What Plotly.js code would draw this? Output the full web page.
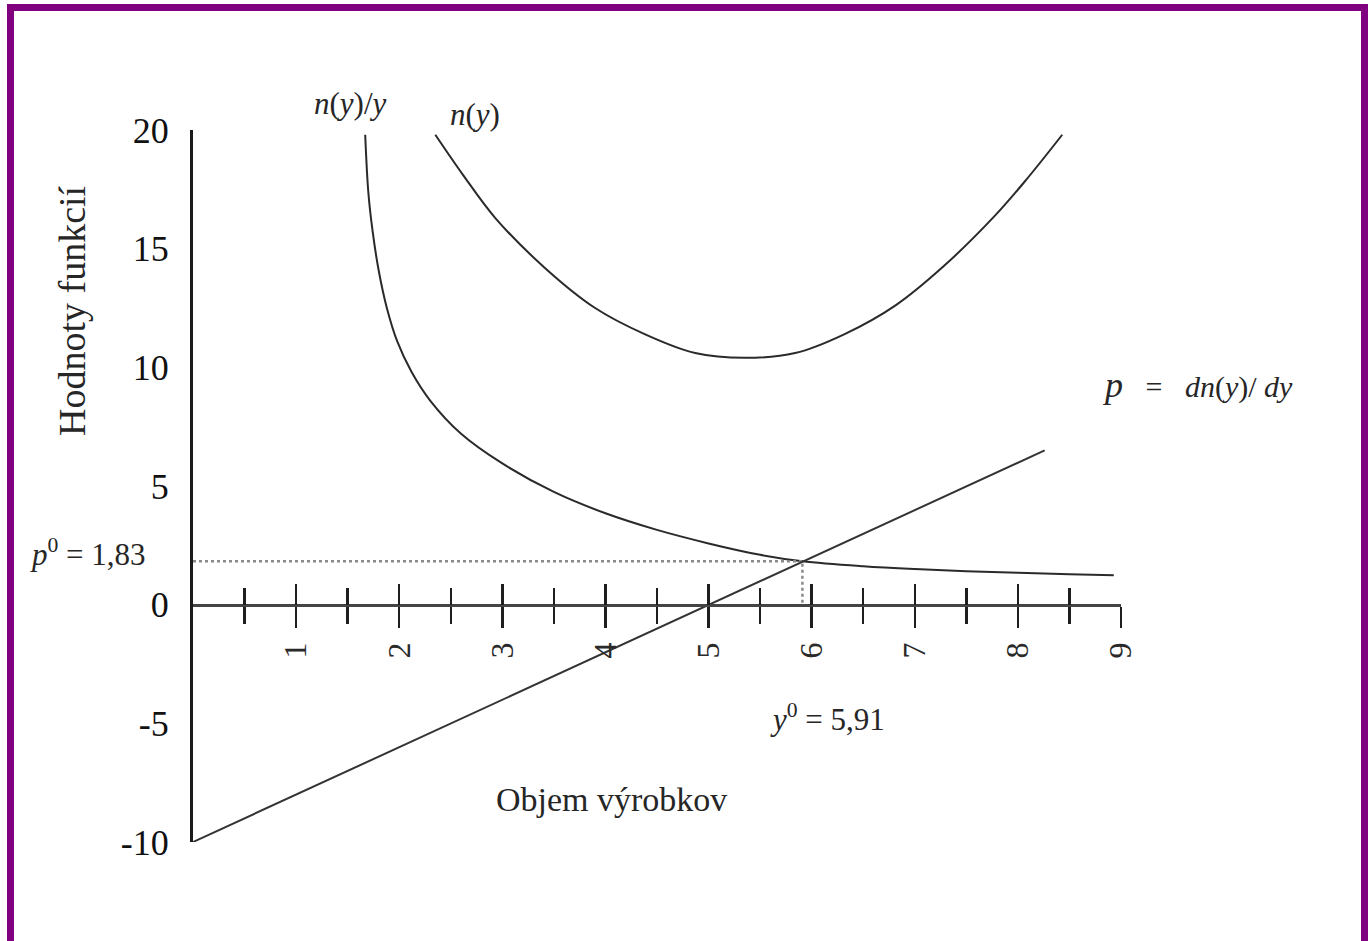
<!DOCTYPE html>
<html>
<head>
<meta charset="utf-8">
<script src="https://cdn.plot.ly/plotly-3.0.1.min.js"></script>
<style>
  html, body { margin: 0; padding: 0; background: #ffffff; }
  #chart { position: absolute; left: 0; top: 0; width: 1368px; height: 941px; }
  #frame {
    position: absolute; left: 7px; top: 4px; width: 1347px; height: 960px;
    border-top: 7px solid #800080; border-left: 7px solid #800080; border-right: 7px solid #800080;
    pointer-events: none;
  }
</style>
</head>
<body>
<div id="chart"></div>
<div id="frame"></div>
<script>
// Total cost n(y)
const costX = [2.35, 2.62, 2.93, 3.41, 3.90, 4.38, 4.87, 5.35, 5.84, 6.32, 6.81, 7.29, 7.78, 8.08, 8.43];
const costY = [19.8, 18.1, 16.3, 14.2, 12.5, 11.4, 10.6, 10.4, 10.6, 11.4, 12.6, 14.3, 16.4, 17.9, 19.8];

// Average cost n(y)/y
const avgX = [1.67, 1.70, 1.74, 1.80, 1.88, 1.98, 2.12, 2.30, 2.60, 3.00, 3.50, 4.00, 4.50, 5.00, 5.50, 5.91, 6.50, 7.00, 7.50, 8.00, 8.50, 8.93];
const avgY = [19.8, 17.4, 15.8, 14.1, 12.5, 11.1, 9.8, 8.6, 7.2, 5.95, 4.75, 3.85, 3.15, 2.58, 2.10, 1.83, 1.62, 1.50, 1.41, 1.34, 1.28, 1.24];

// Marginal cost p = dn(y)/dy
const margX = [0, 8.26];
const margY = [-10, 6.5];

// Optimum point
const optY = 5.91;
const optP = 1.83;

// Axis ticks
const xTickVals = [1, 2, 3, 4, 5, 6, 7, 8, 9];
const xTickText = ['1', '2', '3', '4', '5', '6', '7', '8', '9'];
const yTickVals = [-10, -5, 0, 5, 10, 15, 20];
const yTickText = ['-10', '-5', '0', '5', '10', '15', '20'];

const serif = 'Liberation Serif, Times New Roman, serif';
const ink = '#1e1e1e';

const traces = [
  { x: costX, y: costY, mode: 'lines', line: { color: '#2a2a2a', width: 2, shape: 'spline' }, xaxis: 'x', yaxis: 'y' },
  { x: avgX, y: avgY, mode: 'lines', line: { color: '#2a2a2a', width: 2, shape: 'spline' }, xaxis: 'x', yaxis: 'y' },
  { x: margX, y: margY, mode: 'lines', line: { color: '#333333', width: 2 }, xaxis: 'x2', yaxis: 'y' },
  { x: [0, optY, optY], y: [optP, optP, 0], mode: 'lines', line: { color: '#8a8a8a', width: 2.5, dash: 'dot' }, xaxis: 'x', yaxis: 'y' }
];

const xCommon = {
  range: [0, 9],
  anchor: 'free',
  position: 1 / 3,
  showgrid: false,
  zeroline: false,
  tickmode: 'array',
  tickvals: xTickVals,
  ticktext: xTickText,
  tickcolor: ink,
  tickwidth: 2.5,
  ticklen: 21,
  minor: { tickmode: 'linear', tick0: 0.5, dtick: 1, ticklen: 17, tickwidth: 2.5, tickcolor: ink, showgrid: false }
};

const layout = {
  width: 1368,
  height: 941,
  margin: { l: 193, r: 247, t: 130, b: 99 },
  paper_bgcolor: '#ffffff',
  plot_bgcolor: '#ffffff',
  showlegend: false,
  hovermode: false,
  font: { family: serif, color: ink },
  xaxis: Object.assign({}, xCommon, {
    ticks: 'outside',
    minor: Object.assign({}, xCommon.minor, { ticks: 'outside' }),
    showline: true,
    linecolor: '#444444',
    linewidth: 3,
    tickangle: -90,
    ticklabelstandoff: 2,
    tickfont: { family: serif, size: 32, color: '#2a2a2a' }
  }),
  xaxis2: Object.assign({}, xCommon, {
    overlaying: 'x',
    ticks: 'inside',
    minor: Object.assign({}, xCommon.minor, { ticks: 'inside' }),
    showline: false,
    showticklabels: false
  }),
  yaxis: {
    range: [-10, 20],
    showgrid: false,
    zeroline: false,
    showline: true,
    linecolor: '#1a1a1a',
    linewidth: 3,
    ticks: '',
    tickmode: 'array',
    tickvals: yTickVals,
    ticktext: yTickText,
    ticklabelstandoff: 14,
    tickfont: { family: serif, size: 36, color: '#111111' }
  },
  annotations: [
    { xref: 'paper', yref: 'paper', x: -0.1304, y: 0.7472, text: 'Hodnoty funkcií', textangle: -90, showarrow: false,
      xanchor: 'center', yanchor: 'middle', font: { family: serif, size: 38, color: '#262626' } },
    { xref: 'paper', yref: 'paper', x: 0.451, y: 0.059, text: 'Objem výrobkov', showarrow: false,
      xanchor: 'center', yanchor: 'middle', font: { family: serif, size: 34, color: '#262626' } },
    { xref: 'paper', yref: 'paper', x: 0.1692, y: 1.0379, text: '<i>n</i>(<i>y</i>)/<i>y</i>', showarrow: false,
      xanchor: 'center', yanchor: 'middle', font: { family: serif, size: 31, color: '#262626' } },
    { xref: 'paper', yref: 'paper', x: 0.3039, y: 1.0211, text: '<i>n</i>(<i>y</i>)', showarrow: false,
      xanchor: 'center', yanchor: 'middle', font: { family: serif, size: 31, color: '#262626' } },
    { xref: 'paper', yref: 'paper', x: 0.9777, y: 0.6419, showarrow: false, xanchor: 'left', yanchor: 'middle',
      text: '<span style="font-size:36px"><i>p</i></span>   =   <i>dn</i>(<i>y</i>)/ <i>dy</i>',
      font: { family: serif, size: 30, color: '#262626' } },
    { xref: 'paper', yref: 'paper', x: -0.1778, y: 0.4073, showarrow: false, xanchor: 'left', yanchor: 'middle',
      text: '<i>p</i><sup>0</sup> = 1,83', font: { family: serif, size: 31, color: '#262626' } },
    { xref: 'paper', yref: 'paper', x: 0.6196, y: 0.1742, showarrow: false, xanchor: 'left', yanchor: 'middle',
      text: '<i>y</i><sup>0</sup> = 5,91', font: { family: serif, size: 31, color: '#262626' } }
  ]
};

Plotly.newPlot('chart', traces, layout, { staticPlot: true, displayModeBar: false });
</script>
</body>
</html>
